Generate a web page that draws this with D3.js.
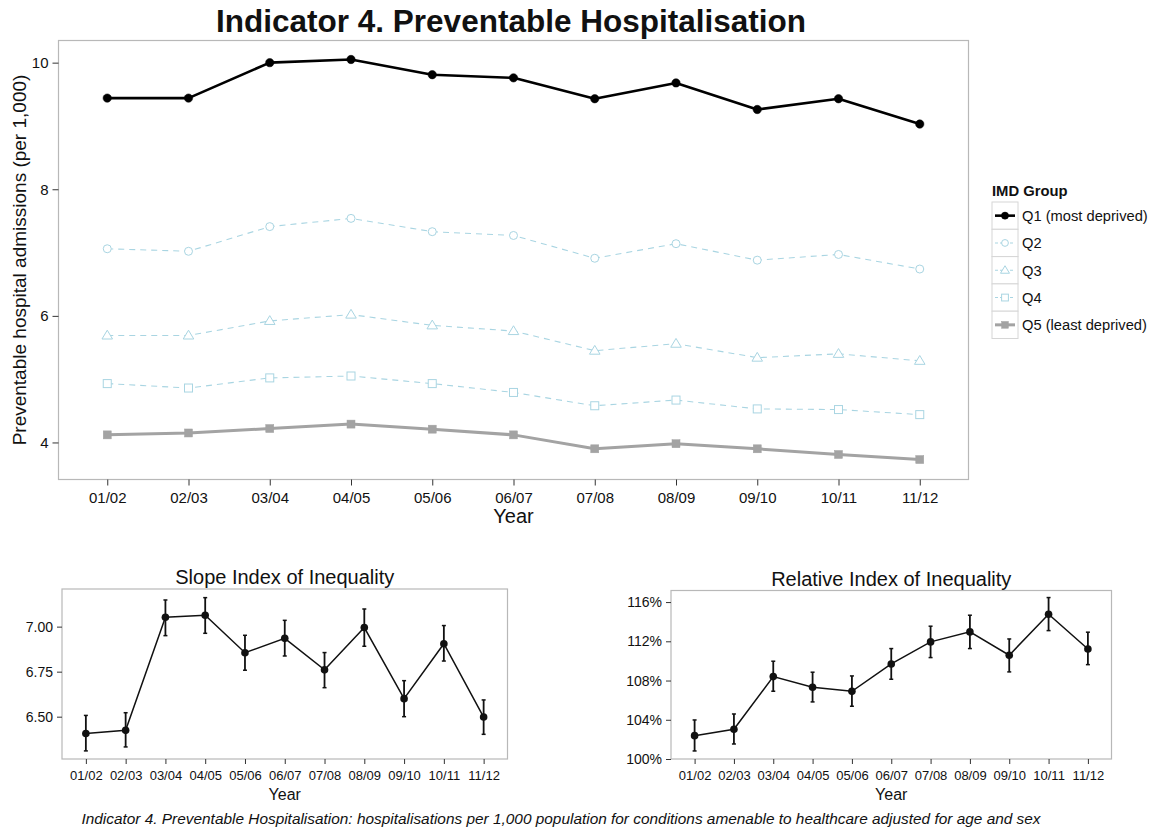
<!DOCTYPE html>
<html><head><meta charset="utf-8">
<script src="https://cdn.jsdelivr.net/npm/d3@7"></script>
<style>body{margin:0;background:#fff;} svg{display:block;font-family:"Liberation Sans",Arial,sans-serif;}</style>
</head><body>
<svg id="c" width="1176" height="832"></svg>
<script>
const years = ["01/02","02/03","03/04","04/05","05/06","06/07","07/08","08/09","09/10","10/11","11/12"];
const q1 = [9.44,9.44,10.00,10.05,9.81,9.76,9.43,9.68,9.26,9.43,9.03];
const q2 = [7.06,7.02,7.41,7.54,7.33,7.27,6.91,7.14,6.88,6.97,6.74];
const q3 = [5.69,5.69,5.92,6.02,5.85,5.76,5.45,5.56,5.34,5.40,5.29];
const q4 = [4.93,4.86,5.02,5.05,4.93,4.79,4.58,4.67,4.53,4.52,4.44];
const q5 = [4.12,4.15,4.22,4.29,4.21,4.12,3.90,3.98,3.90,3.81,3.73];
const groupNames = ["Q1 (most deprived)","Q2","Q3","Q4","Q5 (least deprived)"];
const mainTicks = [4,6,8,10];

const sii = [6.407,6.424,7.052,7.063,6.855,6.935,6.760,6.995,6.600,6.905,6.498];
const siiLo = [6.310,6.332,6.950,6.963,6.758,6.837,6.661,6.891,6.500,6.809,6.402];
const siiHi = [6.507,6.522,7.148,7.161,6.952,7.035,6.856,7.098,6.700,7.006,6.593];
const siiTicks = [6.50,6.75,7.00];

const rii = [102.38,103.03,108.40,107.31,106.90,109.69,111.94,112.96,110.58,114.76,111.22];
const riiLo = [100.82,101.53,106.91,105.82,105.38,108.13,110.34,111.26,108.88,113.09,109.62];
const riiHi = [103.98,104.59,109.97,108.85,108.47,111.26,113.54,114.66,112.24,116.46,112.93];
const riiTicks = [100,104,108,112,116];

const svg = d3.select("#c");
const borderCol = "#b8b8b8", tickCol = "#333";

function xBand(x0,x1){
  return d3.scalePoint().domain(years).range([x0,x1]).padding(0.6);
}
function frame(g, x0,x1,y0,y1){
  g.append("rect").attr("x",x0).attr("y",y0).attr("width",x1-x0).attr("height",y1-y0)
   .attr("fill","none").attr("stroke",borderCol).attr("stroke-width",1.2);
}

// ---------- main panel ----------
const M = {l:58.5,r:968.5,t:40.5,b:479.5};
const x = xBand(M.l,M.r);
const y = d3.scaleLinear().domain([3.415,10.35]).range([M.b,M.t]);
const gm = svg.append("g");
frame(gm,M.l,M.r,M.t,M.b);

const yAx = gm.append("g").attr("transform",`translate(${M.l},0)`)
  .call(d3.axisLeft(y).tickValues(mainTicks).tickSize(6).tickPadding(4).tickFormat(d3.format("d")));
yAx.select(".domain").remove();
yAx.selectAll("line").attr("stroke",tickCol);
yAx.selectAll("text").attr("font-size",15).attr("fill","#111").attr("font-family","Liberation Sans, Arial");
const xAx = gm.append("g").attr("transform",`translate(0,${M.b})`)
  .call(d3.axisBottom(x).tickSize(6).tickPadding(7));
xAx.select(".domain").remove();
xAx.selectAll("line").attr("stroke",tickCol);
xAx.selectAll("text").attr("font-size",15).attr("fill","#111").attr("font-family","Liberation Sans, Arial");

gm.append("text").attr("x",(M.l+M.r)/2).attr("y",523).attr("text-anchor","middle")
  .attr("font-size",20).attr("fill","#111").text("Year");
gm.append("text").attr("transform",`translate(26,${(M.t+M.b)/2}) rotate(-90)`).attr("text-anchor","middle")
  .attr("font-size",19).attr("fill","#111").text("Preventable hospital admissions (per 1,000)");
svg.append("text").attr("x",511).attr("y",32).attr("text-anchor","middle")
  .attr("font-size",31.5).attr("font-weight","bold").attr("fill","#111").text("Indicator 4. Preventable Hospitalisation");

const lb = "#a9d5e2";
const series = [
  {vals:q1,color:"#000",w:2.6,dash:null,shape:"circle",fill:true,r:4.2},
  {vals:q2,color:lb,w:1.1,dash:"6,5",shape:"circle",fill:false,r:4},
  {vals:q3,color:lb,w:1.1,dash:"6,5",shape:"triangle",fill:false,r:4},
  {vals:q4,color:lb,w:1.1,dash:"6,5",shape:"square",fill:false,r:4},
  {vals:q5,color:"#a3a3a3",w:3,dash:null,shape:"square",fill:true,r:4}
];
function drawMarker(g,shape,cx,cy,r,color,fill){
  let el;
  if(shape==="circle"){
    el=g.append("circle").attr("cx",cx).attr("cy",cy).attr("r",r);
  } else if(shape==="square"){
    el=g.append("rect").attr("x",cx-r).attr("y",cy-r).attr("width",2*r).attr("height",2*r);
  } else {
    const h=r*1.1;
    el=g.append("path").attr("d",`M${cx},${cy-h*1.2}L${cx+h*1.2},${cy+h*0.8}L${cx-h*1.2},${cy+h*0.8}Z`);
  }
  el.attr("fill",fill?color:"#fff").attr("stroke",color).attr("stroke-width",fill?0.5:1);
}
const line = d3.line().x((d,i)=>x(years[i])).y(d=>y(d));
series.slice().reverse().forEach(s=>{
  gm.append("path").datum(s.vals).attr("d",line).attr("fill","none").attr("stroke",s.color)
    .attr("stroke-width",s.w).attr("stroke-dasharray",s.dash).attr("stroke-linejoin","round");
  s.vals.forEach((v,i)=>drawMarker(gm,s.shape,x(years[i]),y(v),s.r,s.color,s.fill));
});

// legend
const lg = svg.append("g");
lg.append("text").attr("x",992).attr("y",196).attr("font-size",14.8).attr("font-weight","bold").attr("fill","#111").text("IMD Group");
const keyX=992, keyW=26, keyH=27.3, key0=202;
series.forEach((s,i)=>{
  const ky = key0+i*keyH;
  lg.append("rect").attr("x",keyX).attr("y",ky).attr("width",keyW).attr("height",keyH)
    .attr("fill","#fff").attr("stroke","#d6d6d6").attr("stroke-width",1);
  const cy = ky+keyH/2;
  lg.append("line").attr("x1",keyX+3).attr("x2",keyX+keyW-3).attr("y1",cy).attr("y2",cy)
    .attr("stroke",s.color).attr("stroke-width",s.w).attr("stroke-dasharray",s.dash?"3,2":null);
  drawMarker(lg,s.shape,keyX+keyW/2,cy,s.r*0.85,s.color,s.fill);
  lg.append("text").attr("x",keyX+keyW+4).attr("y",cy+5.5).attr("font-size",14.7).attr("fill","#111").text(groupNames[i]);
});

// ---------- small panels ----------
function smallPanel(P, vals, lo, hi, ticks, domain, fmt, title){
  const g = svg.append("g");
  const xs = xBand(P.l,P.r);
  const ys = d3.scaleLinear().domain(domain).range([P.b,P.t]);
  frame(g,P.l,P.r,P.t,P.b);
  const ya = g.append("g").attr("transform",`translate(${P.l},0)`)
    .call(d3.axisLeft(ys).tickValues(ticks).tickSize(5).tickPadding(4).tickFormat(fmt));
  ya.select(".domain").remove();
  ya.selectAll("line").attr("stroke",tickCol);
  ya.selectAll("text").attr("font-size",14).attr("fill","#111").attr("font-family","Liberation Sans, Arial");
  const xa = g.append("g").attr("transform",`translate(0,${P.b})`)
    .call(d3.axisBottom(xs).tickSize(5).tickPadding(7));
  xa.select(".domain").remove();
  xa.selectAll("line").attr("stroke",tickCol);
  xa.selectAll("text").attr("font-size",13).attr("fill","#111").attr("font-family","Liberation Sans, Arial");
  g.append("text").attr("x",(P.l+P.r)/2).attr("y",800).attr("text-anchor","middle")
    .attr("font-size",16).attr("fill","#111").text("Year");
  g.append("text").attr("x",(P.l+P.r)/2).attr("y",P.t-5).attr("text-anchor","middle")
    .attr("font-size",20).attr("fill","#111").text(title);
  const ln = d3.line().x((d,i)=>xs(years[i])).y(d=>ys(d));
  g.append("path").datum(vals).attr("d",ln).attr("fill","none").attr("stroke","#111").attr("stroke-width",1.5);
  vals.forEach((v,i)=>{
    const cx = xs(years[i]);
    g.append("line").attr("x1",cx).attr("x2",cx).attr("y1",ys(lo[i])).attr("y2",ys(hi[i])).attr("stroke","#111").attr("stroke-width",1.8);
    [lo[i],hi[i]].forEach(e=>g.append("line").attr("x1",cx-2).attr("x2",cx+2).attr("y1",ys(e)).attr("y2",ys(e)).attr("stroke","#111").attr("stroke-width",1.5));
    g.append("circle").attr("cx",cx).attr("cy",ys(v)).attr("r",3.8).attr("fill","#111");
  });
}
smallPanel({l:62,r:507.5,t:589,b:759}, sii, siiLo, siiHi, siiTicks, [6.265,7.209], d3.format(".2f"), "Slope Index of Inequality");
smallPanel({l:671,r:1111.5,t:590.5,b:759}, rii, riiLo, riiHi, riiTicks, [100,117.18], d=>d+"%", "Relative Index of Inequality");

svg.append("text").attr("x",561).attr("y",824).attr("text-anchor","middle").attr("font-size",15.4)
  .attr("font-style","italic").attr("fill","#111")
  .text("Indicator 4. Preventable Hospitalisation: hospitalisations per 1,000 population for conditions amenable to healthcare adjusted for age and sex");
</script>
</body></html>
